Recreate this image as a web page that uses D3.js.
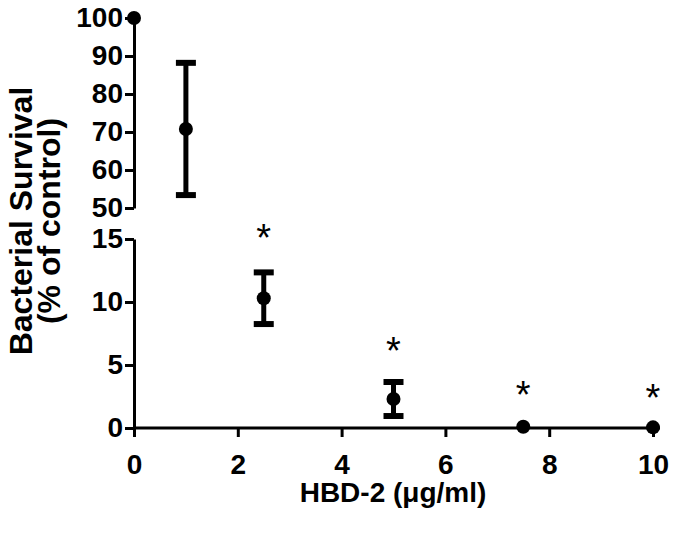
<!DOCTYPE html>
<html>
<head>
<meta charset="utf-8">
<script src="https://cdn.jsdelivr.net/npm/d3@7"></script>
<style>
  body { margin: 0; background: #fff; }
  svg text { font-family: "Liberation Sans Narrow", "Arial Narrow", "Liberation Sans", Arial, sans-serif; fill: #000; }
</style>
</head>
<body>
<div id="chart"></div>
<script>
// data
const doses = [0, 1, 2.5, 5, 7.5, 10];
const survival = [100, 70.8, 10.3, 2.3, 0.1, 0.05];
const sem = [0, 17.4, 2.05, 1.35, 0, 0];
const starDoses = [2.5, 5, 7.5, 10];
const starLevels = [15.5, 6.5, 3.0, 2.8];
const xTicks = [0, 2, 4, 6, 8, 10];
const upperTicks = [50, 60, 70, 80, 90, 100];
const lowerTicks = [0, 5, 10, 15];

const width = 674, height = 536;

const svg = d3.select("#chart").append("svg")
    .attr("width", width)
    .attr("height", height);

// scales: broken y axis, two segments
const x = d3.scaleLinear().domain([0, 10]).range([134, 653]);
const yUp = d3.scaleLinear().domain([50, 100]).range([208, 18]);
const yLow = d3.scaleLinear().domain([0, 15]).range([428, 239]);
const yOf = v => v >= 50 ? yUp(v) : yLow(v);

function styleAxis(g) {
    g.select(".domain").attr("stroke-width", 3).attr("stroke", "#000");
    g.selectAll(".tick line").attr("stroke-width", 3).attr("stroke", "#000");
    g.selectAll(".tick text").attr("font-size", 28).attr("font-weight", "bold");
}

// y axes (upper and lower pieces)
svg.append("g")
    .attr("transform", "translate(134,0)")
    .call(d3.axisLeft(yUp).tickValues(upperTicks).tickSize(9).tickSizeOuter(0).tickPadding(2))
    .call(styleAxis);

svg.append("g")
    .attr("transform", "translate(134,0)")
    .call(d3.axisLeft(yLow).tickValues(lowerTicks).tickSize(9).tickSizeOuter(0).tickPadding(2))
    .call(styleAxis);

// x axis
svg.append("g")
    .attr("transform", "translate(0,428)")
    .call(d3.axisBottom(x).tickValues(xTicks).tickSize(9).tickSizeOuter(0).tickPadding(17))
    .call(styleAxis)
    .call(g => g.select(".domain").attr("d", "M134,0H660"));

// error bars
const err = svg.append("g");
doses.forEach((d, i) => {
    if (sem[i] <= 0) return;
    const cx = x(d);
    const top = yOf(survival[i] + sem[i]);
    const bot = yOf(survival[i] - sem[i]);
    err.append("line").attr("x1", cx).attr("x2", cx).attr("y1", top).attr("y2", bot)
        .attr("stroke", "#000").attr("stroke-width", 5);
    [top, bot].forEach(yy => {
        err.append("line").attr("x1", cx - 10).attr("x2", cx + 10).attr("y1", yy).attr("y2", yy)
            .attr("stroke", "#000").attr("stroke-width", 6);
    });
});

// points
svg.append("g").selectAll("circle")
    .data(doses)
    .enter().append("circle")
    .attr("cx", d => x(d))
    .attr("cy", (d, i) => yOf(survival[i]))
    .attr("r", 7)
    .attr("fill", "#000");

// significance stars
svg.append("g").selectAll("text")
    .data(starDoses)
    .enter().append("text")
    .attr("x", d => x(d))
    .attr("y", (d, i) => yLow(starLevels[i]) + 18)
    .attr("text-anchor", "middle")
    .attr("font-size", 38)
    .attr("font-family", "Liberation Sans, Arial, sans-serif")
    .text("*");

// axis titles
svg.append("text")
    .attr("x", 393)
    .attr("y", 502)
    .attr("text-anchor", "middle")
    .attr("font-size", 28)
    .attr("font-weight", "bold")
    .text("HBD-2 (\u03bcg/ml)");

const yTitle = svg.append("text")
    .attr("transform", "translate(0,221) rotate(-90)")
    .attr("text-anchor", "middle")
    .attr("font-size", 32)
    .attr("font-weight", "bold")
    .attr("font-family", "Liberation Sans, Arial, sans-serif");
yTitle.append("tspan").attr("x", 0).attr("y", 32).text("Bacterial Survival");
yTitle.append("tspan").attr("x", 0).attr("y", 60).text("(% of control)");
</script>
</body>
</html>
